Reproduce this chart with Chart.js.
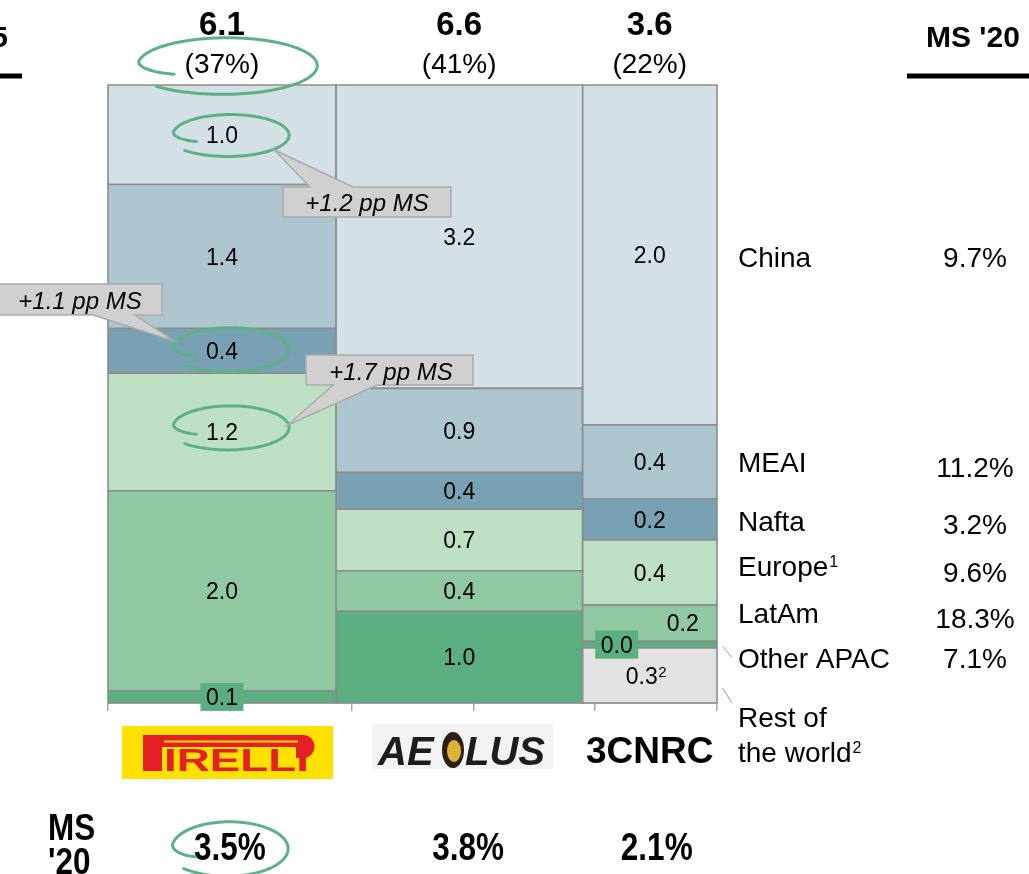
<!DOCTYPE html>
<html><head><meta charset="utf-8">
<script src="https://cdn.jsdelivr.net/npm/chart.js@4.4.1/dist/chart.umd.min.js"></script>
<style>html,body{margin:0;padding:0;background:#fff;overflow:hidden}canvas{display:block}</style>
</head><body>
<canvas id="c" width="1029" height="874"></canvas>
<script>
// ---------- data ----------
const companies = ['Pirelli', 'Aeolus', '3CNRC'];
const companyTotals = [6.1, 6.6, 3.6];
const companyShares = ['(37%)', '(41%)', '(22%)'];
const companyMS20 = ['3.5%', '3.8%', '2.1%'];
const regions = ['China', 'MEAI', 'Nafta', 'Europe', 'LatAm', 'Other APAC', 'Rest of the world'];
const regionMS20 = ['9.7%', '11.2%', '3.2%', '9.6%', '18.3%', '7.1%', ''];
const china = [0.98, 3.24, 1.98];
const meai = [1.42, 0.90, 0.43];
const nafta = [0.44, 0.39, 0.24];
const europe = [1.16, 0.66, 0.38];
const latam = [1.97, 0.43, 0.21];
const otherApac = [0.12, 0.98, 0.04];
const restOfWorld = [0, 0, 0.32];
const xTicks = [0, 20, 40, 60, 80, 100];
const calloutTexts = ['+1.2 pp MS', '+1.1 pp MS', '+1.7 pp MS'];

// ---------- styles ----------
const regionColors = ['#d3e0e6', '#adc5cf', '#78a2b3', '#bde0c5', '#8fc8a1', '#5aae80', '#e3e3e3'];
const FF = "'Liberation Sans', Arial, Helvetica, sans-serif";
const GREEN = '#5db185';

const series = [china, meai, nafta, europe, latam, otherApac, restOfWorld];
const grandTotal = companyTotals.reduce((a, b) => a + b, 0);
const colStart = [], colEnd = [];
let acc = 0;
companyTotals.forEach(t => { colStart.push(acc / grandTotal * 100); acc += t; colEnd.push(acc / grandTotal * 100); });

const segs = [];
companies.forEach((c, ci) => {
  const colSum = series.reduce((a, s) => a + s[ci], 0);
  let base = 0;
  for (let ri = series.length - 1; ri >= 0; ri--) {
    const v = series[ri][ci];
    if (v <= 0) continue;
    segs.push({ ci, ri, v, lo: base / colSum, hi: (base + v) / colSum, x0: colStart[ci], x1: colEnd[ci] });
    base += v;
  }
});

const datasets = segs.map(s => ({
  label: regions[s.ri] + ' - ' + companies[s.ci],
  data: [{ x: s.x0, y: s.lo }, { x: s.x0, y: s.hi }, { x: s.x1, y: s.hi }, { x: s.x1, y: s.lo }, { x: s.x0, y: s.lo }],
  backgroundColor: regionColors[s.ri],
  borderColor: '#8d8d8d',
  borderWidth: 1.6,
  fill: 'shape',
  pointRadius: 0,
  pointHoverRadius: 0,
  tension: 0,
  clip: 8
}));

// ---------- helpers ----------
function T(ctx, s, x, y, size, o = {}) {
  ctx.font = `${o.style || ''} ${o.weight || ''} ${size}px ${FF}`;
  ctx.textAlign = o.align || 'center';
  ctx.textBaseline = 'alphabetic';
  ctx.fillStyle = o.color || '#000';
  ctx.fillText(s, x, y);
}
function narrow(ctx, s, x, y, size, align, sx) {
  ctx.save();
  ctx.font = `bold ${size}px ${FF}`;
  ctx.textAlign = align; ctx.textBaseline = 'alphabetic'; ctx.fillStyle = '#000';
  ctx.translate(x, y); ctx.scale(sx, 1); ctx.fillText(s, 0, 0);
  ctx.restore();
}
function loop(ctx, cx, cy, rx, ry) {
  ctx.save();
  ctx.strokeStyle = GREEN; ctx.lineWidth = 3; ctx.lineCap = 'round'; ctx.lineJoin = 'round';
  ctx.beginPath();
  const N = 160, d0 = 150, d1 = 495;
  for (let i = 0; i <= N; i++) {
    const deg = d0 + (d1 - d0) * i / N;
    const a = deg * Math.PI / 180;
    let k;
    if (deg < 190) k = 0.68 + 0.32 * Math.sin(((deg - d0) / 40) * Math.PI / 2);
    else k = 1 + 0.12 * Math.pow((deg - 190) / (d1 - 190), 2);
    const px = cx + rx * k * Math.cos(a), py = cy + ry * k * Math.sin(a);
    if (i) ctx.lineTo(px, py); else ctx.moveTo(px, py);
  }
  ctx.stroke();
  ctx.restore();
}
function callout(ctx, b, side, xa, xb, tip, text, tx, ty) {
  ctx.save();
  ctx.beginPath();
  if (side === 'top') {
    ctx.moveTo(b.x, b.y); ctx.lineTo(xa, b.y); ctx.lineTo(tip.x, tip.y); ctx.lineTo(xb, b.y);
    ctx.lineTo(b.x + b.w, b.y); ctx.lineTo(b.x + b.w, b.y + b.h); ctx.lineTo(b.x, b.y + b.h);
  } else {
    ctx.moveTo(b.x, b.y); ctx.lineTo(b.x + b.w, b.y); ctx.lineTo(b.x + b.w, b.y + b.h);
    ctx.lineTo(xb, b.y + b.h); ctx.lineTo(tip.x, tip.y); ctx.lineTo(xa, b.y + b.h); ctx.lineTo(b.x, b.y + b.h);
  }
  ctx.closePath();
  ctx.fillStyle = '#d0d0d0'; ctx.fill();
  ctx.strokeStyle = '#ababab'; ctx.lineWidth = 1.5; ctx.stroke();
  ctx.restore();
  T(ctx, text, tx, ty, 24, { style: 'italic' });
}

// ---------- annotation plugin ----------
const annotations = {
  id: 'annotations',
  afterDraw(chart) {
    const ctx = chart.ctx, xs = chart.scales.x, ys = chart.scales.y;
    const colCx = companies.map((c, i) => xs.getPixelForValue((colStart[i] + colEnd[i]) / 2));
    const labelPos = {};

    // segment value labels
    segs.forEach(s => {
      let cx = xs.getPixelForValue((s.x0 + s.x1) / 2);
      const cy = ys.getPixelForValue((s.lo + s.hi) / 2);
      const txt = s.v.toFixed(1);
      const key = s.ri + '_' + s.ci;
      if (s.ri === 5 && (s.ci === 0 || s.ci === 2)) {
        if (s.ci === 2) cx -= 33;
        ctx.fillStyle = regionColors[5];
        ctx.fillRect(cx - 21.5, cy - 14, 43, 28);
        T(ctx, txt, cx, cy + 8.2, 23);
      } else if (s.ri === 4 && s.ci === 2) {
        cx += 33;
        T(ctx, txt, cx, cy + 8.2, 23);
      } else if (s.ri === 6) {
        cx -= 8;
        T(ctx, txt, cx, cy + 8.2, 23);
        T(ctx, '2', cx + 16.5, cy + 1, 15, { align: 'left' });
      } else {
        T(ctx, txt, cx, cy + 8.2, 23);
      }
      labelPos[key] = { x: cx, y: cy };
    });

    // column headers
    companies.forEach((c, i) => {
      T(ctx, companyTotals[i].toFixed(1), colCx[i], 35, 33, { weight: 'bold' });
      T(ctx, companyShares[i], colCx[i], 72.5, 28);
    });

    // top left cut header and rule, top right header and rule
    T(ctx, "MS '15", 8, 46.5, 30, { weight: 'bold', align: 'right' });
    ctx.fillStyle = '#000';
    ctx.fillRect(0, 73.5, 22, 5);
    T(ctx, "MS '20", 926, 46.5, 30, { weight: 'bold', align: 'left' });
    ctx.fillRect(907, 73.5, 122, 5);

    // legend (right side)
    const lx = 738;
    const legY = [267, 472, 531, 576, 623, 668];
    const valY = [267, 477, 534, 582, 628, 668];
    for (let i = 0; i < 6; i++) {
      T(ctx, regions[i], lx, legY[i], 28, { align: 'left' });
      T(ctx, regionMS20[i], 975, valY[i], 28);
    }
    ctx.font = `28px ${FF}`;
    const ew = ctx.measureText('Europe').width;
    T(ctx, '1', lx + ew + 1, 567, 16, { align: 'left' });
    T(ctx, 'Rest of', lx, 727, 28, { align: 'left' });
    T(ctx, 'the world', lx, 762, 28, { align: 'left' });
    ctx.font = `28px ${FF}`;
    const tw = ctx.measureText('the world').width;
    T(ctx, '2', lx + tw + 1, 753, 16, { align: 'left' });
    ctx.save();
    ctx.strokeStyle = '#9a9a9a'; ctx.lineWidth = 1;
    ctx.beginPath();
    ctx.moveTo(722.5, 646.5); ctx.lineTo(732, 657.5);
    ctx.moveTo(722.5, 688); ctx.lineTo(732, 703);
    ctx.stroke();
    ctx.restore();

    // logos
    // Pirelli
    ctx.fillStyle = '#ffe100';
    ctx.fillRect(122, 726, 211, 53);
    ctx.fillStyle = '#e41f26';
    ctx.fillRect(143, 735, 19, 36);
    ctx.fillRect(143, 735, 160, 12);
    ctx.beginPath();
    ctx.moveTo(296, 735); ctx.lineTo(303, 735);
    ctx.arc(303, 746.5, 11.5, -Math.PI / 2, Math.PI / 2);
    ctx.lineTo(296, 758); ctx.closePath(); ctx.fill();
    ctx.fillStyle = '#ffe100';
    ctx.fillRect(164, 740.5, 134, 2);
    ctx.save();
    ctx.font = `bold 32px ${FF}`; ctx.fillStyle = '#e41f26'; ctx.textAlign = 'left';
    ctx.translate(164, 771); ctx.scale(1.43, 1); ctx.fillText('IRELLI', 0, 0);
    ctx.restore();
    // Aeolus
    ctx.fillStyle = '#f3f3f3';
    ctx.fillRect(372, 724, 181, 45);
    ctx.save();
    ctx.font = `italic bold 40px ${FF}`; ctx.fillStyle = '#1c1c1c'; ctx.textAlign = 'left';
    ctx.fillText('AE', 378, 765);
    ctx.fillText('LUS', 465, 765);
    ctx.restore();
    ctx.fillStyle = '#2b1f12';
    ctx.beginPath(); ctx.ellipse(453, 750, 11, 18, 0, 0, Math.PI * 2); ctx.fill();
    ctx.fillStyle = '#dcb335';
    ctx.beginPath(); ctx.ellipse(454, 751, 7, 11, 0, 0, Math.PI * 2); ctx.fill();
    // 3CNRC
    T(ctx, companies[2], colCx[2], 763, 37, { weight: 'bold' });

    // bottom MS row
    narrow(ctx, 'MS', 48, 840, 37, 'left', 0.85);
    narrow(ctx, "'20", 48, 874, 37, 'left', 0.85);
    companies.forEach((c, i) => narrow(ctx, companyMS20[i], colCx[i] + (i === 0 ? 8 : i === 1 ? 9 : 7), 860, 38, 'center', 0.83));

    // hand-drawn green loops
    loop(ctx, colCx[0] + 4, 65, 88, 27);
    const p = labelPos['0_0'], q = labelPos['2_0'], r = labelPos['3_0'];
    loop(ctx, p.x + 8, p.y, 57, 20);
    loop(ctx, q.x + 8, q.y - 2, 57, 21);
    loop(ctx, r.x + 8, r.y - 5, 57, 21);
    loop(ctx, colCx[0] + 7, 848, 57, 26);

    // callouts
    callout(ctx, { x: 283, y: 187, w: 168, h: 30 }, 'top', 310, 353, { x: p.x + 52, y: p.y + 15 }, calloutTexts[0], 367, 211);
    callout(ctx, { x: -2, y: 284, w: 164, h: 31 }, 'bottom', 93, 135, { x: q.x - 48, y: q.y - 10 }, calloutTexts[1], 80, 308.5);
    callout(ctx, { x: 306, y: 355, w: 167, h: 30 }, 'bottom', 333, 377, { x: r.x + 66, y: r.y - 7 }, calloutTexts[2], 391, 379.5);
  }
};

new Chart(document.getElementById('c'), {
  type: 'line',
  data: { datasets },
  options: {
    responsive: false,
    animation: false,
    devicePixelRatio: 1,
    events: [],
    layout: { padding: { left: 108, right: 312, top: 85, bottom: 163 } },
    plugins: { legend: { display: false }, tooltip: { enabled: false } },
    scales: {
      x: {
        type: 'linear', min: 0, max: 100, position: 'bottom',
        afterBuildTicks: s => { s.ticks = xTicks.map(v => ({ value: v })); },
        ticks: { display: false },
        grid: { drawOnChartArea: false, drawTicks: true, tickLength: 8, color: '#a8a8a8', lineWidth: 1.5 },
        border: { display: true, color: '#a0a0a0', width: 1.5 }
      },
      y: { type: 'linear', min: 0, max: 1, display: false }
    }
  },
  plugins: [annotations]
});
</script>
</body></html>
